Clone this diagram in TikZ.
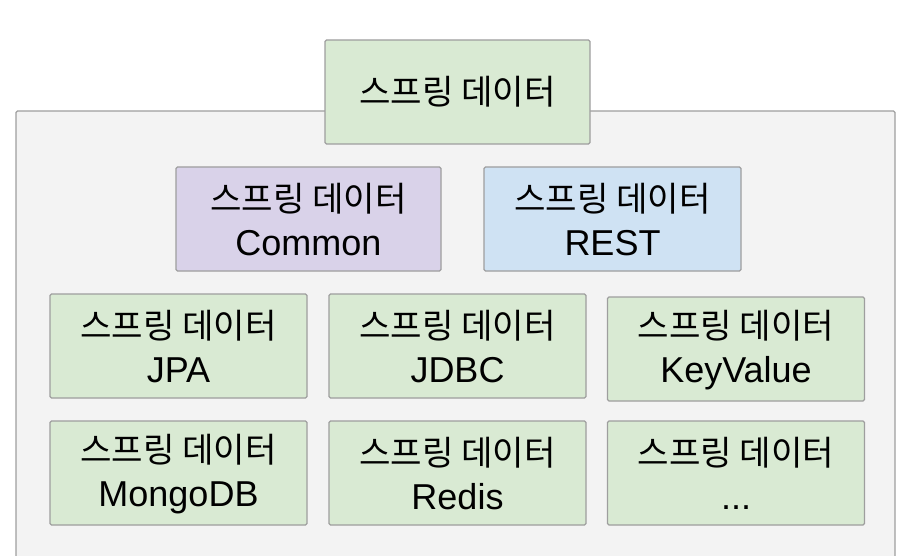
\documentclass[tikz,border=0pt]{standalone}
\usepackage{fontspec}
\setmainfont{Liberation Sans}
\newfontfamily\kr{Noto Sans CJK KR}[Scale=0.95]
\definecolor{gfill}{HTML}{D9EAD3}
\definecolor{pfill}{HTML}{D9D2E9}
\definecolor{bfill}{HTML}{CFE2F3}
\definecolor{ofill}{HTML}{F3F3F3}
\definecolor{edge}{HTML}{9E9E9E}
\newcommand\ts{\rule{0pt}{30pt}}
\newcommand\bs{\rule[-2pt]{0pt}{2pt}}
\newcommand\lab[1]{\ts{\kr 스프링 데이터}\\#1\bs}
\begin{document}
\begin{tikzpicture}[x=1pt,y=-1pt,
  box/.style={draw=edge,line width=1.3pt,rounded corners=1.5pt,inner sep=0pt,
    align=center,font={\fontsize{36}{44}\selectfont},text=black,
    minimum width=257pt,minimum height=104pt},
  gbox/.style={box,fill=gfill},
  pbox/.style={box,fill=pfill,minimum width=265pt},
  bbox/.style={box,fill=bfill},
  outer/.style={draw=edge,line width=1.3pt,fill=ofill,rounded corners=1.5pt}]
\useasboundingbox (0,0) rectangle (904,556);
\path[outer] (16,111) rectangle (895,580);
\node[gbox,minimum width=265pt] (top) at (457.5,92) {\rule[-2pt]{0pt}{28pt}{\kr 스프링 데이터}};
\node[pbox] (common) at (308.5,219) {\lab{Common}};
\node[bbox] (rest) at (612.5,219) {\lab{REST}};
\node[gbox] (jpa) at (178.5,346) {\lab{JPA}};
\node[gbox] (jdbc) at (457.5,346) {\lab{JDBC}};
\node[gbox] (kv) at (736,349) {\lab{KeyValue}};
\node[gbox] (mongo) at (178.5,473) {\lab{MongoDB}};
\node[gbox] (redis) at (457.5,473) {\lab{Redis}};
\node[gbox] (etc) at (736,473) {\lab{...}};
\end{tikzpicture}
\end{document}
